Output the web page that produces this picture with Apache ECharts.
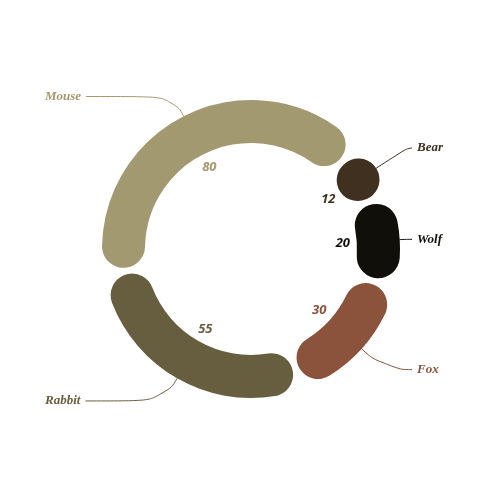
<!DOCTYPE html>
<html>
<head>
<meta charset="utf-8">
<script src="https://cdn.jsdelivr.net/npm/echarts@6/dist/echarts.min.js"></script>
<style>html,body{margin:0;padding:0;background:#fff}#c{width:500px;height:500px}</style>
</head>
<body>
<div id="c"></div>
<script>
const names = ['Mouse', 'Bear', 'Wolf', 'Fox', 'Rabbit'];
const values = [80, 12, 20, 30, 55];
const colors = ['#a39970', '#3f301f', '#110f09', '#8b533c', '#675e40'];
const lineLengths = [22, 37, 5, 31, 26];

const START = 190;
const nameFont = 'italic bold 13px "Liberation Serif"';
const ctx = document.createElement('canvas').getContext('2d');
ctx.font = nameFont;
const total = values.reduce((a, b) => a + b, 0);
let acc = 0;
const data = names.map((n, i) => {
  const mid = START - (acc + values[i] / 2) / total * 360;
  acc += values[i];
  const rightSide = Math.cos(mid * Math.PI / 180) > 0;
  const w = ctx.measureText(n).width;
  return {
    name: n,
    value: values[i],
    itemStyle: { color: colors[i] },
    label: { edgeDistance: rightSide ? 83 - w : 45 },
    labelLine: { length: lineLengths[i] }
  };
});
const chart = echarts.init(document.getElementById('c'));
chart.setOption({
  animation: false,
  series: [
    {
      type: 'pie',
      center: [251, 249],
      radius: [106, 149],
      startAngle: START,
      padAngle: 3,
      itemStyle: { borderRadius: 22 },
      data: data,
      label: {
        show: true,
        position: 'outside',
        alignTo: 'edge',
        labelDistance: 3,
        formatter: '{b}',
        fontFamily: 'Liberation Serif',
        fontStyle: 'italic',
        fontWeight: 'bold',
        fontSize: 13,
        color: 'inherit'
      },
      labelLine: { show: true, smooth: 0.6, length: 30, length2: 0, lineStyle: { width: 1 } }
    },
    {
      type: 'pie',
      center: [251, 249],
      radius: [72, 106],
      startAngle: START,
      padAngle: 3,
      silent: true,
      data: names.map((n, i) => ({ name: n, value: values[i], itemStyle: { color: 'rgba(0,0,0,0)' }, label: { color: colors[i] } })),
      label: {
        show: true,
        position: 'inside',
        formatter: '{c}',
        fontFamily: 'Open Sans',
        fontStyle: 'italic',
        fontWeight: 'bold',
        fontSize: 13
      },
      labelLine: { show: false }
    }
  ]
});
</script>
</body>
</html>
